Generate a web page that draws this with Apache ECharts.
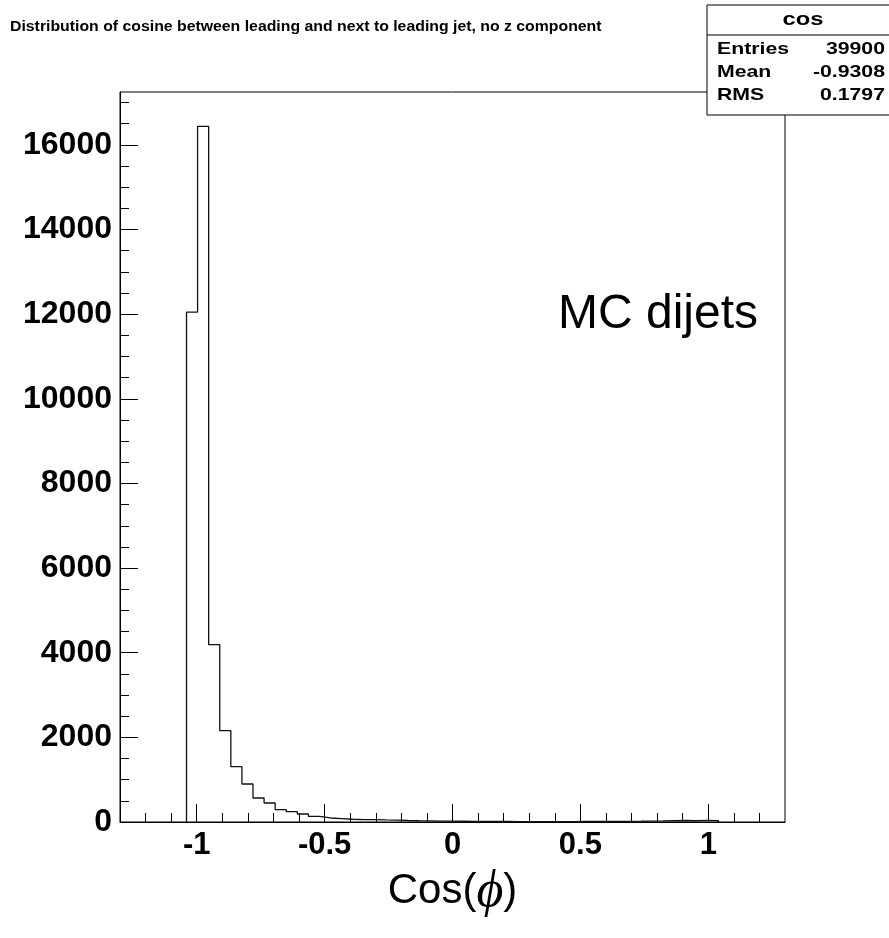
<!DOCTYPE html>
<html>
<head>
<meta charset="utf-8">
<script src="https://cdn.jsdelivr.net/npm/echarts@6/dist/echarts.min.js"></script>
<style>
html,body{margin:0;padding:0;background:#fff;}
#chart{width:889px;height:938px;}
</style>
</head>
<body>
<div id="chart"></div>
<script>
// Histogram definition (cos between leading and next-to-leading jet)
const histMin = -1.04;
const histMax = 1.04;
const nBins = 48;
const counts = [12050, 16440, 4190, 2158, 1307, 898, 567, 449, 291, 243, 189, 132,
  95, 80, 65, 55, 58, 48, 42, 35, 30, 26, 22, 20, 18, 16, 14, 13, 12, 11, 11, 10,
  10, 10, 11, 12, 13, 14, 15, 17, 19, 22, 25, 30, 35, 30, 38, 30];

const xMajorTicks = [-1, -0.5, 0, 0.5, 1];
const xTickLabels = ['-1', '-0.5', '0', '0.5', '1'];
const xMinorTicks = [-1.2, -1.1, -0.9, -0.8, -0.7, -0.6, -0.4, -0.3, -0.2, -0.1,
  0.1, 0.2, 0.3, 0.4, 0.6, 0.7, 0.8, 0.9, 1.1, 1.2];
const yMajorTicks = [0, 2000, 4000, 6000, 8000, 10000, 12000, 14000, 16000];
const yTickLabels = ['0', '2000', '4000', '6000', '8000', '10000', '12000', '14000', '16000'];
const yMinorTicks = [500, 1000, 1500, 2500, 3000, 3500, 4500, 5000, 5500, 6500, 7000, 7500,
  8500, 9000, 9500, 10500, 11000, 11500, 12500, 13000, 13500, 14500, 15000, 15500,
  16500, 17000];

const titleText = 'Distribution of cosine between leading and next to leading jet, no z component';
const statsName = 'cos';
const statsLabels = ['Entries', 'Mean', 'RMS'];
const statsValues = ['39900', '-0.9308', '0.1797'];

// Build step outline from the bins
const binW = (histMax - histMin) / nBins;
const outline = [[histMin, 0]];
counts.forEach((c, i) => {
  outline.push([histMin + i * binW, c]);
  outline.push([histMin + (i + 1) * binW, c]);
});
outline.push([histMax, 0]);

const FONT = 'Liberation Sans';
const chart = echarts.init(document.getElementById('chart'));

const statsGraphics = [
  {type: 'rect', shape: {x: 707, y: 5, width: 200, height: 110},
   style: {fill: '#fff', stroke: '#000', lineWidth: 1}, z: 100},
  {type: 'line', shape: {x1: 707, y1: 35, x2: 900, y2: 35},
   style: {stroke: '#000', lineWidth: 1}, z: 101},
  {type: 'text', x: 803, y: 20, z: 102, scaleX: 1.25,
   style: {text: statsName, font: 'bold 19px ' + FONT, fill: '#000', align: 'center', verticalAlign: 'middle'}}
];
statsLabels.forEach((lab, i) => {
  const yy = 49 + i * 23.3;
  statsGraphics.push({type: 'text', x: 717, y: yy, z: 102, scaleX: 1.25,
    style: {text: lab, font: 'bold 17px ' + FONT, fill: '#000', align: 'left', verticalAlign: 'middle'}});
  statsGraphics.push({type: 'text', x: 885, y: yy, z: 102, scaleX: 1.25,
    style: {text: statsValues[i], font: 'bold 17px ' + FONT, fill: '#000', align: 'right', verticalAlign: 'middle'}});
});

chart.setOption({
  animation: false,
  backgroundColor: '#fff',
  grid: {left: 120, right: 104, top: 92, bottom: 116, show: true,
         borderColor: '#000', borderWidth: 1, backgroundColor: 'transparent'},
  xAxis: [
    {type: 'value', min: -1.3, max: 1.3, position: 'bottom',
     axisLine: {show: true, onZero: false, lineStyle: {color: '#000', width: 1}},
     axisTick: {show: true, inside: true, length: 18, customValues: xMajorTicks, lineStyle: {color: '#000'}},
     axisLabel: {show: true, customValues: xMajorTicks, margin: 8,
       formatter: v => xTickLabels[xMajorTicks.indexOf(v)] ?? '',
       fontFamily: FONT, fontWeight: 'bold', fontSize: 31, color: '#000'},
     splitLine: {show: false},
     name: '{a|Cos(}{b|ϕ}{a|)}', nameLocation: 'middle', nameGap: 34,
     nameTextStyle: {rich: {
       a: {fontFamily: FONT, fontSize: 42, color: '#000'},
       b: {fontFamily: 'Liberation Serif', fontStyle: 'italic', fontSize: 52, color: '#000'}
     }}},
    {type: 'value', min: -1.3, max: 1.3, position: 'bottom',
     axisLine: {show: false, onZero: false},
     axisTick: {show: true, inside: true, length: 9, customValues: xMinorTicks, lineStyle: {color: '#000'}},
     axisLabel: {show: false}, splitLine: {show: false}}
  ],
  yAxis: [
    {type: 'value', min: 0, max: 17250, position: 'left',
     axisLine: {show: true, onZero: false, lineStyle: {color: '#000', width: 1}},
     axisTick: {show: true, inside: true, length: 18, customValues: yMajorTicks, lineStyle: {color: '#000'}},
     axisLabel: {show: true, customValues: yMajorTicks, margin: 8,
       formatter: v => yTickLabels[yMajorTicks.indexOf(v)] ?? '',
       fontFamily: FONT, fontWeight: 'bold', fontSize: 32, color: '#000'},
     splitLine: {show: false}},
    {type: 'value', min: 0, max: 17250, position: 'left',
     axisLine: {show: false, onZero: false},
     axisTick: {show: true, inside: true, length: 9, customValues: yMinorTicks, lineStyle: {color: '#000'}},
     axisLabel: {show: false}, splitLine: {show: false}}
  ],
  series: [{
    type: 'line', xAxisIndex: 0, yAxisIndex: 0,
    data: outline, showSymbol: false, symbol: 'none',
    lineStyle: {color: '#111', width: 1.3},
    silent: true
  }],
  graphic: [
    {type: 'text', x: 10, y: 27, z: 50, scaleX: 1.13,
     style: {text: titleText, font: 'bold 14px ' + FONT, fill: '#000', align: 'left', verticalAlign: 'middle'}},
    {type: 'text', x: 558, y: 315, z: 50,
     style: {text: 'MC dijets', font: '48px ' + FONT, fill: '#000', align: 'left', verticalAlign: 'middle'}}
  ].concat(statsGraphics)
});
</script>
</body>
</html>
